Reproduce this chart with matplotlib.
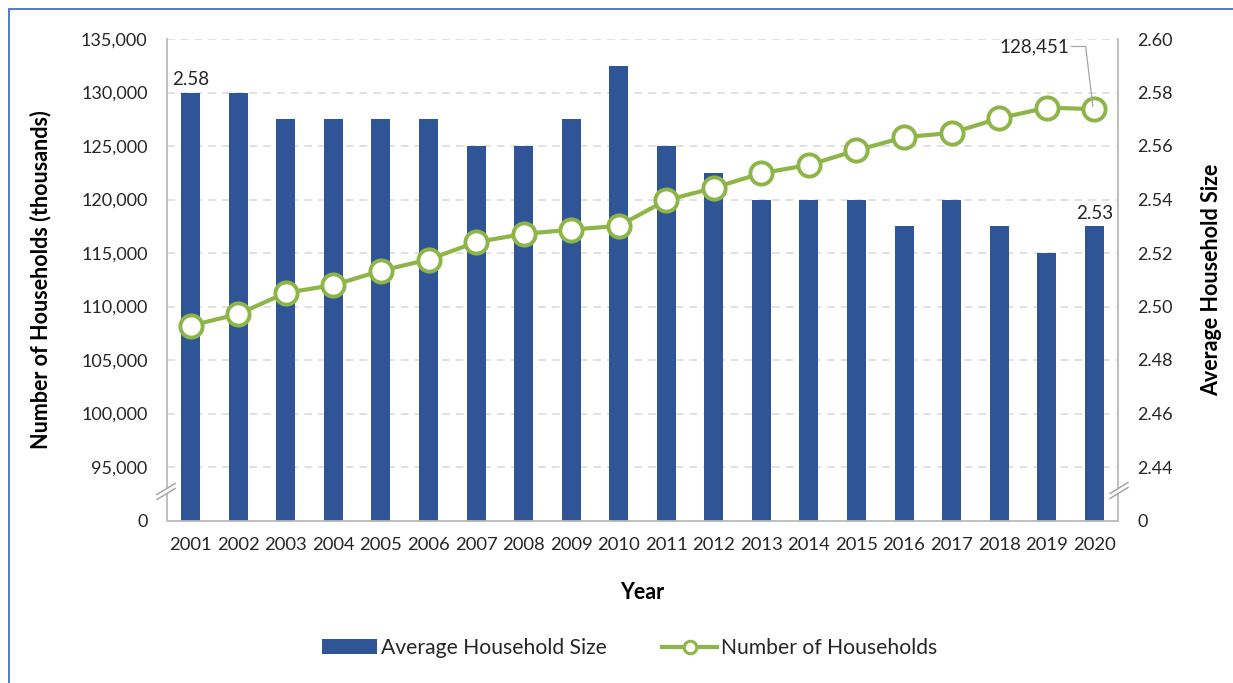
import matplotlib

matplotlib.use("Agg")

import matplotlib.pyplot as plt
from matplotlib.lines import Line2D
from matplotlib.patches import Rectangle, Polygon
from matplotlib.ticker import FixedLocator, FixedFormatter

plt.rcParams["font.family"] = ["Lato", "DejaVu Sans"]

years = [str(y) for y in range(2001, 2021)]
avg_size = [2.58, 2.58, 2.57, 2.57, 2.57, 2.57, 2.56, 2.56, 2.57, 2.59,
            2.56, 2.55, 2.54, 2.54, 2.54, 2.53, 2.54, 2.53, 2.52, 2.53]
households = [108209, 109297, 111278, 112000, 113343, 114384, 116011, 116783, 117181, 117538,
              119927, 121084, 122459, 123229, 124587, 125819, 126224, 127586, 128579, 128451]

left_ticks = [90000, 95000, 100000, 105000, 110000, 115000, 120000, 125000, 130000, 135000]
left_labels = ["0", "95,000", "100,000", "105,000", "110,000", "115,000",
               "120,000", "125,000", "130,000", "135,000"]
right_ticks = [2.42, 2.44, 2.46, 2.48, 2.50, 2.52, 2.54, 2.56, 2.58, 2.60]
right_labels = ["0", "2.44", "2.46", "2.48", "2.50", "2.52", "2.54", "2.56", "2.58", "2.60"]

BAR_COLOR = "#2F5597"
LINE_COLOR = "#8DB548"
GRID_COLOR = "#D9D9D9"
SPINE_COLOR = "#BFBFBF"
TEXT_COLOR = "#262626"

W, H = 1233, 683
fig = plt.figure(figsize=(W / 100, H / 100), dpi=100)
ax2 = fig.add_axes([167 / W, 1 - 520.5 / H, (1118 - 167) / W, (520.5 - 39) / H])
ax = ax2.twinx()
ax.yaxis.tick_left()
ax.yaxis.set_label_position("left")
ax2.yaxis.tick_right()
ax2.yaxis.set_label_position("right")
ax.set_zorder(ax2.get_zorder() + 1)
ax.patch.set_visible(False)

x = list(range(len(years)))

# bars on the bottom layer (right axis)
ax2.bar(x, avg_size, width=0.4, color=BAR_COLOR, zorder=3)
ax2.set_ylim(right_ticks[0], right_ticks[-1])
ax2.yaxis.set_major_locator(FixedLocator(right_ticks))
ax2.yaxis.set_major_formatter(FixedFormatter(right_labels))
for t in right_ticks[1:]:
    ax2.axhline(t, color=GRID_COLOR, lw=1.1, ls=(0, (5, 4)), zorder=1)
ax2.set_xlim(-0.5, len(years) - 0.5)
ax2.set_xticks(x)
ax2.set_xticklabels(years)

# line on the top layer (left axis)
ax.plot(x, households, color=LINE_COLOR, lw=3, marker="o", markersize=16,
        markerfacecolor="white", markeredgecolor=LINE_COLOR, markeredgewidth=2.8,
        zorder=5, clip_on=False)
ax.set_ylim(left_ticks[0], left_ticks[-1])
ax.yaxis.set_major_locator(FixedLocator(left_ticks))
ax.yaxis.set_major_formatter(FixedFormatter(left_labels))

for a in (ax, ax2):
    a.tick_params(axis="both", length=0, labelsize=13, labelcolor=TEXT_COLOR)
    a.spines["top"].set_visible(False)
    for s in ("left", "right", "bottom"):
        a.spines[s].set_color(SPINE_COLOR)
        a.spines[s].set_linewidth(1.2)
ax.tick_params(axis="y", pad=14)
ax2.tick_params(axis="y", pad=14)
ax2.tick_params(axis="x", pad=12, labelsize=13.3)

ax.set_ylabel("Number of Households (thousands)", fontsize=15.5, fontweight="bold",
              color="black", labelpad=21)
ax2.set_ylabel("Average Household Size", fontsize=15.5, fontweight="bold",
               color="black", labelpad=20)
ax2.set_xlabel("Year", fontsize=15.5, fontweight="bold", color="black", labelpad=21)

# data labels
for i in (0, len(years) - 1):
    ax2.text(x[i], avg_size[i] + 0.0048, f"{avg_size[i]:.2f}", ha="center", va="center",
             fontsize=13.5, color=TEXT_COLOR, zorder=6)
last = len(years) - 1
ax.text(last - 0.52, 134300, f"{households[last]:,}", ha="right", va="center",
        fontsize=13.5, color=TEXT_COLOR)
ax.plot([last - 0.48, last - 0.18, last - 0.03], [134300, 134300, households[last] + 250],
        color="#A6A6A6", lw=0.9, zorder=6)


# axis break marks
def axis_break(px, py):
    tr = fig.transFigure
    dx, dy = 9, 5.5
    gap = 5
    fig.patches.append(Polygon(
        [((px - dx) / W, 1 - (py + dy) / H), ((px + dx) / W, 1 - (py - dy) / H),
         ((px + dx) / W, 1 - (py - dy + gap) / H), ((px - dx) / W, 1 - (py + dy + gap) / H)],
        closed=True, transform=tr, facecolor="white", edgecolor="none", zorder=10))
    for off in (0, gap):
        fig.add_artist(Line2D([(px - dx) / W, (px + dx) / W],
                              [1 - (py + dy + off) / H, 1 - (py - dy + off) / H],
                              transform=tr, color="#A6A6A6", lw=1.1, zorder=11))


axis_break(166, 489)
axis_break(1119, 488)

# legend
handles = [
    Rectangle((0, 0), 1, 1, facecolor=BAR_COLOR, edgecolor="none"),
    Line2D([], [], color=LINE_COLOR, lw=3, marker="o", markersize=9,
           markerfacecolor="white", markeredgecolor=LINE_COLOR, markeredgewidth=2.2),
]
fig.legend(handles, ["Average Household Size", "Number of Households"],
           loc="center", bbox_to_anchor=(630 / W, 1 - 648 / H), ncol=2, frameon=False,
           fontsize=15.2, handlelength=2.6, handletextpad=0.2, columnspacing=2.6,
           labelcolor=TEXT_COLOR)

# outer frame
fig.patches.append(Rectangle((9 / W, -0.01), 1.0, 1 - 9 / H + 0.01,
                             transform=fig.transFigure, fill=False,
                             edgecolor="#4472C4", lw=1.3, zorder=0))

fig.savefig("out.png", dpi=100)
